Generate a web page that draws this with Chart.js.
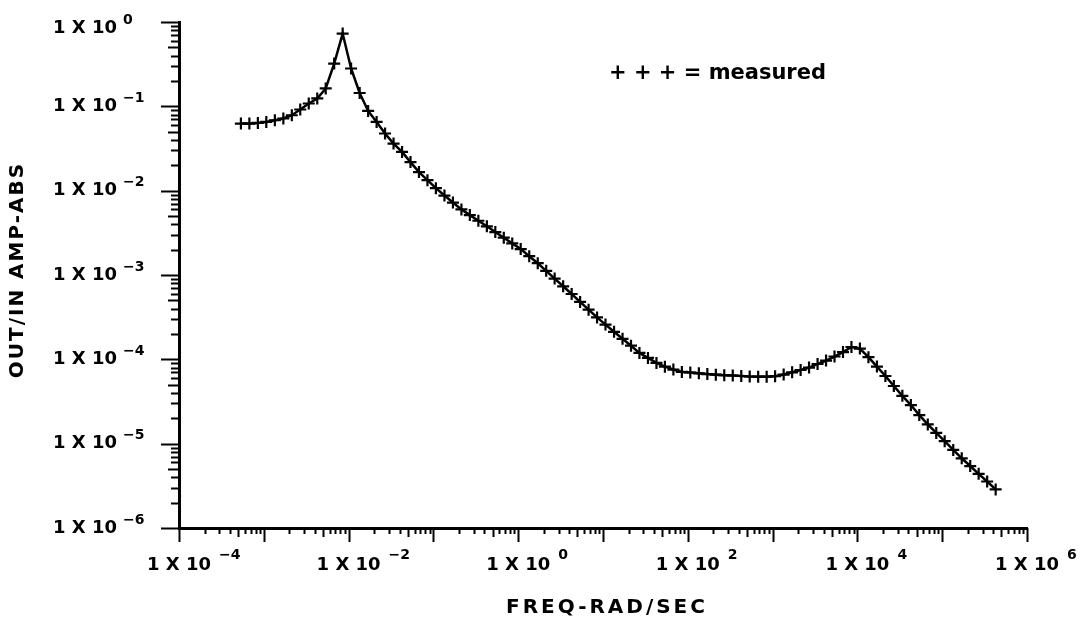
<!DOCTYPE html>
<html>
<head>
<meta charset="utf-8">
<script src="https://cdn.jsdelivr.net/npm/chart.js@4.4.1/dist/chart.umd.min.js"></script>
<style>
  html, body { margin: 0; padding: 0; background: #fff; }
  canvas { display: block; }
</style>
</head>
<body>
<canvas id="bode" width="1089" height="623"></canvas>
<script>
// measured points (rad/sec and out/in amplitude)
const freq = [
    5.37e-4, 6.76e-4, 8.51e-4,
    1.07e-3, 1.35e-3, 1.70e-3, 2.14e-3, 2.69e-3, 3.39e-3, 4.27e-3, 5.37e-3, 6.76e-3, 8.51e-3,
    1.07e-2, 1.35e-2, 1.70e-2, 2.14e-2, 2.69e-2, 3.39e-2, 4.27e-2, 5.37e-2, 6.76e-2, 8.51e-2,
    1.07e-1, 1.35e-1, 1.70e-1, 2.14e-1, 2.69e-1, 3.39e-1, 4.27e-1, 5.37e-1, 6.76e-1, 8.51e-1,
    1.07, 1.35, 1.70, 2.14, 2.69, 3.39, 4.27, 5.37, 6.76, 8.51,
    10.7, 13.5, 17.0, 21.4, 26.9, 33.9, 42.7, 53.7, 67.6, 85.1,
    107, 135, 170, 214, 269, 339, 427, 537, 676, 851,
    1070, 1350, 1700, 2140, 2690, 3390, 4270, 5370, 6760, 8510,
    1.07e4, 1.35e4, 1.70e4, 2.14e4, 2.69e4, 3.39e4, 4.27e4, 5.37e4, 6.76e4, 8.51e4,
    1.07e5, 1.35e5, 1.70e5, 2.14e5, 2.69e5, 3.39e5, 4.27e5
];
const amp = [
    0.0625, 0.0625, 0.0636, 0.0653, 0.0684, 0.0717, 0.0784, 0.0917, 0.108, 0.124,
    0.163, 0.321, 0.729, 0.281, 0.144, 0.0882, 0.0653, 0.0476, 0.0362, 0.0288,
    0.0218, 0.0166, 0.0133, 0.0107, 0.00875, 0.00723, 0.00600, 0.00513, 0.00440, 0.00378,
    0.00323, 0.00277, 0.00237, 0.00203, 0.00167, 0.00138, 0.00112, 9.06e-4, 7.35e-4, 5.95e-4,
    4.80e-4, 3.88e-4, 3.14e-4, 2.58e-4, 2.12e-4, 1.75e-4, 1.45e-4, 1.19e-4, 1.04e-4, 9.06e-5,
    8.19e-5, 7.57e-5, 7.09e-5, 6.98e-5, 6.83e-5, 6.69e-5, 6.57e-5, 6.48e-5, 6.43e-5, 6.34e-5,
    6.26e-5, 6.22e-5, 6.22e-5, 6.31e-5, 6.60e-5, 7.02e-5, 7.47e-5, 7.99e-5, 8.80e-5, 9.67e-5,
    1.08e-4, 1.22e-4, 1.40e-4, 1.34e-4, 1.06e-4, 8.21e-5, 6.34e-5, 4.83e-5, 3.69e-5, 2.87e-5,
    2.18e-5, 1.69e-5, 1.34e-5, 1.07e-5, 8.44e-6, 6.71e-6, 5.43e-6, 4.39e-6, 3.56e-6, 2.87e-6
];

// tick labels are "1 X 10^n"
const xLabelExps = [-4, -2, 0, 2, 4, 6];
const yLabelExps = [0, -1, -2, -3, -4, -5, -6];
const xTitle = 'FREQ-RAD/SEC';
const yTitle = 'OUT/IN AMP-ABS';
const legendText = '+ + + = measured';

const FONT = '"DejaVu Sans", "Liberation Sans", sans-serif';

function sup(n) {
    return n < 0 ? '\u2212' + Math.abs(n) : String(n);
}

// ticks, labels, titles and the legend note
const axisDeco = {
    id: 'axisDeco',
    afterDraw(chart) {
        const { ctx, chartArea: a, scales: { x, y } } = chart;
        ctx.save();
        ctx.strokeStyle = '#000';
        ctx.fillStyle = '#000';
        ctx.lineWidth = 2;

        const seg = (x1, y1, x2, y2) => {
            ctx.beginPath();
            ctx.moveTo(x1, y1);
            ctx.lineTo(x2, y2);
            ctx.stroke();
        };

        // x ticks hang below the axis
        for (let e = -4; e <= 6; e++) {
            for (let m = 1; m <= 9; m++) {
                if (e === 6 && m > 1) break;
                const px = Math.round(x.getPixelForValue(m * Math.pow(10, e))) + 0.5;
                const len = m === 1 ? 14 : (m === 5 ? 9 : 6);
                seg(px, a.bottom, px, a.bottom + len);
            }
        }
        // y ticks point left
        for (let e = -6; e <= 0; e++) {
            for (let m = 1; m <= 9; m++) {
                if (e === 0 && m > 1) break;
                const py = Math.round(y.getPixelForValue(m * Math.pow(10, e))) + 0.5;
                const len = m === 1 ? 18 : (m === 5 ? 11 : 8);
                seg(a.left, py, a.left - len, py);
            }
        }

        const main = 'bold 18px ' + FONT;
        const small = 'bold 14px ' + FONT;
        ctx.textBaseline = 'middle';

        xLabelExps.forEach(e => {
            const px = x.getPixelForValue(Math.pow(10, e));
            ctx.font = main;
            ctx.textAlign = 'center';
            const w = ctx.measureText('1 X 10').width;
            ctx.fillText('1 X 10', px, 565);
            ctx.font = small;
            ctx.textAlign = 'left';
            ctx.fillText(sup(e), px + w / 2 + 8, 555);
        });

        yLabelExps.forEach(e => {
            const py = Math.max(y.getPixelForValue(Math.pow(10, e)), 28);
            ctx.font = main;
            ctx.textAlign = 'right';
            ctx.fillText('1 X 10', 117, py);
            ctx.font = small;
            ctx.textAlign = 'left';
            ctx.fillText(sup(e), 123, py - 8);
        });

        // axis titles
        ctx.font = 'bold 20px ' + FONT;
        ctx.textAlign = 'center';
        ctx.letterSpacing = '3px';
        ctx.fillText(xTitle, 607, 608);
        ctx.letterSpacing = '2px';
        ctx.save();
        ctx.translate(18, 270);
        ctx.rotate(-Math.PI / 2);
        ctx.fillText(yTitle, 0, 0);
        ctx.restore();

        ctx.letterSpacing = '0px';
        ctx.font = 'bold 21px ' + FONT;
        ctx.textAlign = 'left';
        ctx.textBaseline = 'alphabetic';
        ctx.fillText(legendText, 609, 79);
        ctx.restore();
    }
};

const points = freq.map((f, i) => ({ x: f, y: amp[i] }));

new Chart(document.getElementById('bode'), {
    type: 'scatter',
    data: {
        datasets: [{
            label: 'measured',
            data: points,
            showLine: true,
            tension: 0,
            borderColor: '#000',
            borderWidth: 2.5,
            pointStyle: 'cross',
            pointRadius: 6,
            pointBorderWidth: 2.2,
            pointBorderColor: '#000',
            pointBackgroundColor: '#000'
        }]
    },
    options: {
        responsive: false,
        animation: false,
        events: [],
        layout: { padding: { top: 22, right: 62, left: 0, bottom: 0 } },
        plugins: {
            legend: { display: false },
            tooltip: { enabled: false }
        },
        scales: {
            x: {
                type: 'logarithmic',
                min: 1e-4,
                max: 1e6,
                grid: { display: false },
                border: { display: true, color: '#000', width: 3 },
                ticks: { display: false },
                afterFit(s) { s.height = 95; }
            },
            y: {
                type: 'logarithmic',
                min: 1e-6,
                max: 1,
                grid: { display: false },
                border: { display: true, color: '#000', width: 3 },
                ticks: { display: false },
                afterFit(s) { s.width = 179; }
            }
        }
    },
    plugins: [axisDeco]
});
</script>
</body>
</html>
